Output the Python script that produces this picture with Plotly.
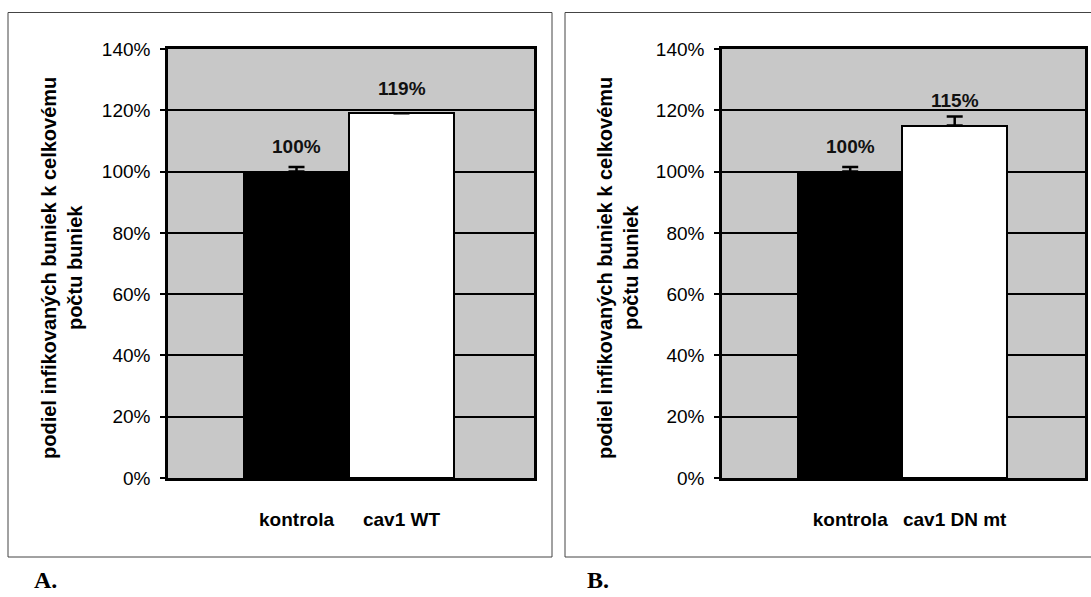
import plotly.graph_objects as go

# ---- data ----
cats_a = ["kontrola", "cav1 WT"]
vals_a = [100, 119]
err_a = [1.5, 0]

cats_b = ["kontrola", "cav1 DN mt"]
vals_b = [100, 115]
err_b = [1.5, 3]

bar_colors = ["black", "white"]
y_ticks = [0, 20, 40, 60, 80, 100, 120, 140]
y_ticktext = [f"{t}%" for t in y_ticks]
y_title = "podiel infikovaných buniek k celkovému<br>počtu buniek"
panel_labels = ["A.", "B."]

W, H = 1091, 597
def px(x):
    return x / W
def py(y):
    return 1 - y / H

fig = go.Figure()

for i, (cats, vals, errs) in enumerate([(cats_a, vals_a, err_a), (cats_b, vals_b, err_b)]):
    xa = "x" if i == 0 else "x2"
    ya = "y" if i == 0 else "y2"
    fig.add_trace(go.Bar(
        x=cats, y=vals, xaxis=xa, yaxis=ya, width=1,
        marker=dict(color=bar_colors, line=dict(color="black", width=2)),
        error_y=dict(type="data", symmetric=False, array=errs, arrayminus=[0] * len(errs),
                     color="black", thickness=2.5, width=8),
        showlegend=False, hoverinfo="skip",
    ))
    for c, v in zip(cats, vals):
        fig.add_annotation(x=c, y=v, xref=xa, yref=ya, text=f"<b>{v}%</b>",
                           showarrow=False, yshift=25,
                           font=dict(family="Liberation Sans", size=19, color="#111"))

axis_common_y = dict(range=[0, 140], tickmode="array", tickvals=y_ticks, ticktext=y_ticktext,
                     showgrid=True, gridcolor="black", gridwidth=2,
                     showline=True, linecolor="black", linewidth=2.5, mirror=True,
                     ticks="outside", ticklen=5, tickwidth=2, tickcolor="black",
                     zeroline=False, ticklabelstandoff=6, automargin=False,
                     tickfont=dict(family="Liberation Sans", size=19, color="black"))
axis_common_x = dict(type="category", showgrid=False, showline=True, linecolor="black",
                     linewidth=2.5, mirror=True, ticks="", ticklabelstandoff=22,
                     automargin=False, zeroline=False,
                     tickfont=dict(family="Liberation Sans", size=19, color="black"))

fig.update_layout(
    template="none",
    width=W, height=H, margin=dict(l=0, r=0, t=0, b=0, pad=0, autoexpand=False),
    paper_bgcolor="white", plot_bgcolor="#c8c8c8",
    bargap=0, barmode="group", showlegend=False,
    xaxis=dict(domain=[px(168), px(534)], anchor="y", range=[-1.224, 2.262],
               tickmode="array", tickvals=cats_a, ticktext=[f"<b>{c}</b>" for c in cats_a],
               **axis_common_x),
    yaxis=dict(domain=[py(478), py(49)], anchor="x", **axis_common_y),
    xaxis2=dict(domain=[px(722), px(1085)], anchor="y2", range=[-1.227, 2.247],
                tickmode="array", tickvals=cats_b, ticktext=[f"<b>{c}</b>" for c in cats_b],
                **axis_common_x),
    yaxis2=dict(domain=[py(478), py(49)], anchor="x2", **axis_common_y),
)

# y-axis titles
for xc in [62, 618]:
    fig.add_annotation(x=px(xc), y=py(268), xref="paper", yref="paper",
                       text=f"<b>{y_title}</b>", textangle=-90, showarrow=False,
                       xanchor="center", yanchor="middle",
                       font=dict(family="Liberation Sans", size=20, color="black"))

# panel frames
fig.add_shape(type="rect", xref="paper", yref="paper", x0=px(8), x1=px(552),
              y0=py(557), y1=py(12.5), line=dict(color="#444", width=1))
fig.add_shape(type="rect", xref="paper", yref="paper", x0=px(565), x1=1.02,
              y0=py(557), y1=py(12.5), line=dict(color="#444", width=1))

# panel letters
for lbl, xl in zip(panel_labels, [33, 586]):
    fig.add_annotation(x=px(xl), y=py(580), xref="paper", yref="paper",
                       text=f"<b>{lbl}</b>", showarrow=False, xanchor="left", yanchor="middle",
                       borderpad=0,
                       font=dict(family="Liberation Serif", size=24, color="black"))

fig.write_html("out.html")
